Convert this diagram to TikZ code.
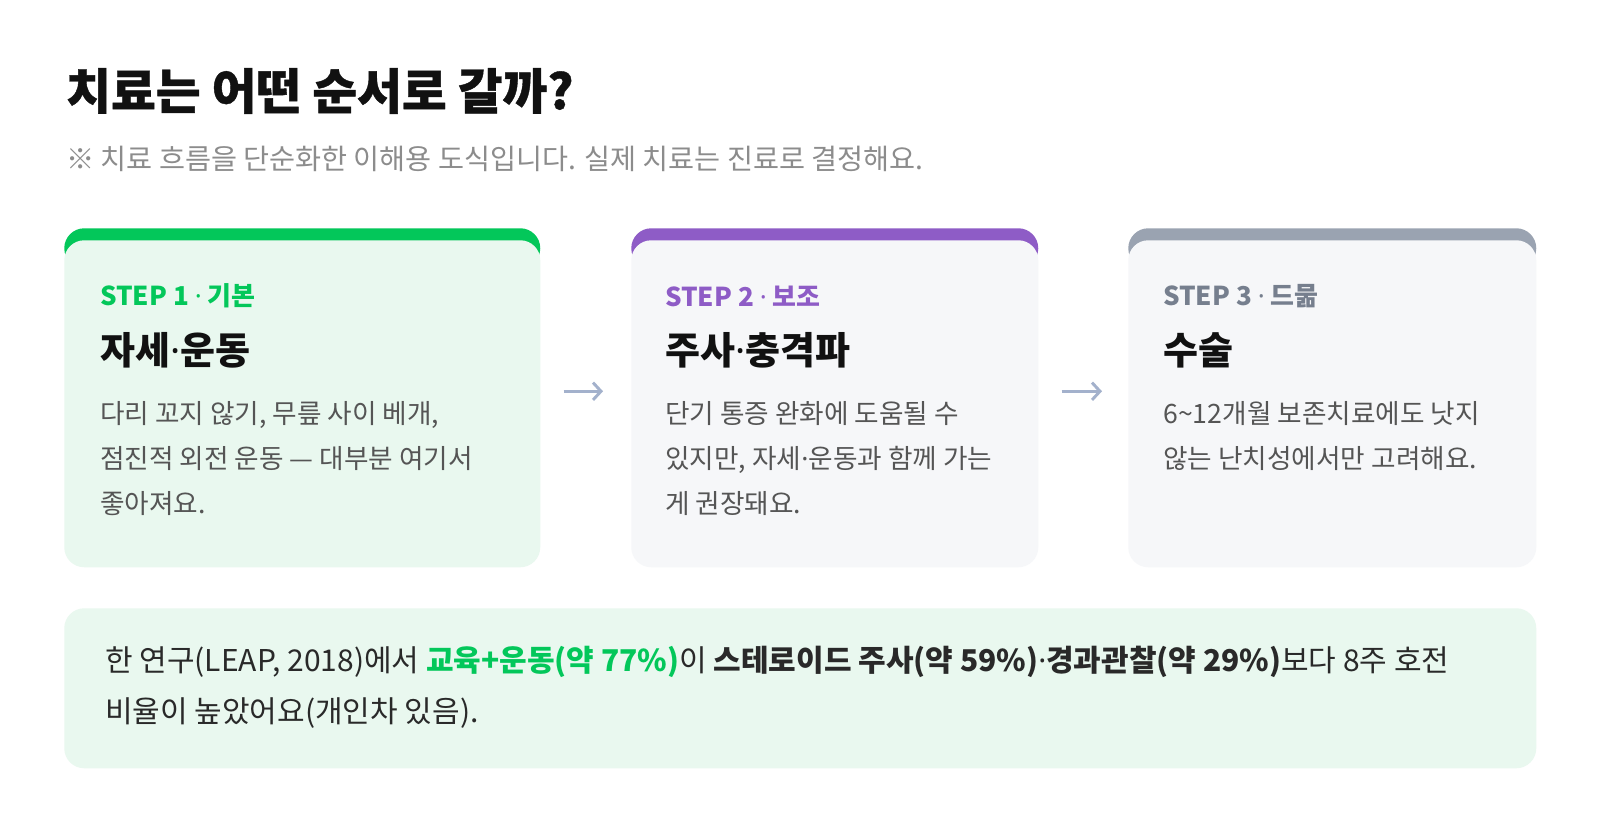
\documentclass[tikz,border=0pt]{standalone}
\usepackage{fontspec}
\setmainfont{Noto Sans CJK KR}
\newfontfamily\headfont[BoldFeatures={FakeBold=0.8}]{Noto Sans CJK KR}
\newfontfamily\dotfont{Noto Sans}
\usepackage{xcolor}
\usetikzlibrary{arrows.meta,positioning}

\definecolor{stepgreen}{HTML}{03C75A}
\definecolor{cardgreen}{HTML}{E9F8EF}
\definecolor{steppurple}{HTML}{8E5CC6}
\definecolor{cardgray}{HTML}{F6F7F9}
\definecolor{bandgray}{HTML}{9AA3B1}
\definecolor{stepgraytext}{HTML}{767F8E}
\definecolor{arrowblue}{HTML}{A3B1CC}
\definecolor{bodygray}{HTML}{555555}
\definecolor{notegray}{HTML}{8C8C8C}
\definecolor{inkblack}{HTML}{111111}

% narrow middle dot
\newcommand\mdot{{\dotfont ·}}

\begin{document}
\begin{tikzpicture}[x=0.75pt,y=-0.75pt,
  cardbox/.style={rectangle,rounded corners=15pt,inner sep=0pt,anchor=north west},
  heading/.style={anchor=west,inner sep=0pt,text=inkblack,font=\headfont\bfseries\fontsize{36.5pt}{42pt}\selectfont},
  subnote/.style={anchor=west,inner sep=0pt,text=notegray,font=\fontsize{21.2pt}{26pt}\selectfont},
  steplabel/.style={anchor=west,inner sep=0pt,font=\bfseries\fontsize{19.5pt}{24pt}\selectfont},
  cardtitle/.style={anchor=west,inner sep=0pt,text=inkblack,font=\bfseries\fontsize{28.5pt}{34pt}\selectfont},
  cardtext/.style={anchor=north west,inner sep=0pt,align=left,text=bodygray,font=\fontsize{20pt}{33.75pt}\selectfont},
  notetext/.style={anchor=north west,inner sep=0pt,align=left,text=inkblack!90,font=\fontsize{22.5pt}{38.25pt}\selectfont},
  flowarrow/.style={draw=arrowblue,line width=2.2pt,-{Straight Barb[length=6pt,width=13pt,line width=2.2pt]}}]
  \useasboundingbox (0,0) rectangle (1600,836);
  \fill[white] (0,0) rectangle (1600,836);

  % heading
  \node[heading] (heading) at (66,91) {치료는 어떤 순서로 갈까?};
  \node[subnote] (subnote) at (66,159) {※ 치료 흐름을 단순화한 이해용 도식입니다. 실제 치료는 진료로 결정해요.};

  % cards: coloured band under the body
  \foreach \n/\cx/\cw/\bandcol/\bodycol in {1/64/357/stepgreen/cardgreen,
      2/631/305.25/steppurple/cardgray, 3/1128/306/bandgray/cardgray}{
    \node[cardbox,fill=\bandcol,minimum width=\cw pt,minimum height=30pt] (band\n) at (\cx,228) {};
    \node[cardbox,fill=\bodycol,minimum width=\cw pt,minimum height=245.25pt] (card\n) at (\cx,240) {};
  }

  % card 1
  \node[steplabel,text=stepgreen] (step1) at (100,296) {STEP 1 \mdot{} 기본};
  \node[cardtitle] (title1) at (100,350) {자세\mdot 운동};
  \node[cardtext] (text1) at (100,401) {다리 꼬지 않기, 무릎 사이 베개,\\점진적 외전 운동 — 대부분 여기서\\좋아져요.};

  % card 2
  \node[steplabel,text=steppurple] (step2) at (665,296) {STEP 2 \mdot{} 보조};
  \node[cardtitle] (title2) at (665,350) {주사\mdot 충격파};
  \node[cardtext] (text2) at (665,401) {단기 통증 완화에 도움될 수\\있지만, 자세\mdot 운동과 함께 가는\\게 권장돼요.};

  % card 3
  \node[steplabel,text=stepgraytext] (step3) at (1163,296) {STEP 3 \mdot{} 드묾};
  \node[cardtitle] (title3) at (1163,350) {수술};
  \node[cardtext] (text3) at (1163,401) {6\textasciitilde 12개월 보존치료에도 낫지\\않는 난치성에서만 고려해요.};

  % arrows between cards
  \draw[flowarrow] ([shift={(23,-12.5)}]card1.east) -- ([shift={(-28,-12.5)}]card2.west);
  \draw[flowarrow] ([shift={(23,-12.5)}]card2.east) -- ([shift={(-26,-12.5)}]card3.west);

  % study note
  \node[cardbox,fill=cardgreen,minimum width=1104pt,minimum height=120pt] (notebox) at (64,608) {};
  \node[notetext] (note) at (105,646) {한 연구(LEAP, 2018)에서 \textcolor{stepgreen}{\bfseries 교육+운동(약 77\%)}이 {\bfseries 스테로이드 주사(약 59\%)\mdot 경과관찰(약 29\%)}보다 8주 호전\\비율이 높았어요(개인차 있음).};
\end{tikzpicture}
\end{document}
